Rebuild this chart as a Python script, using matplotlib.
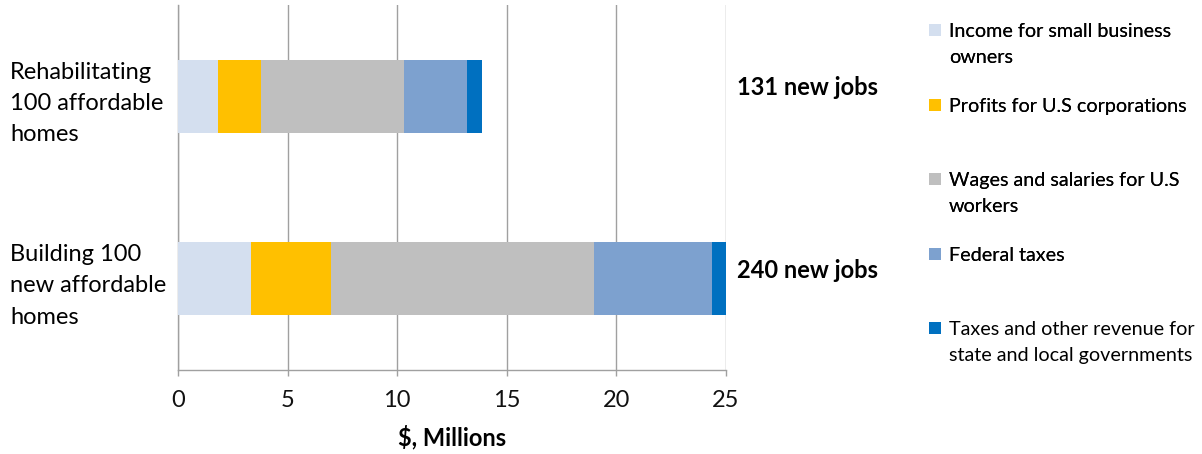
import numpy as np
import matplotlib
matplotlib.use('Agg')
import matplotlib.pyplot as plt
from matplotlib.patches import Patch

plt.rcParams['font.family'] = ['Lato', 'DejaVu Sans']

categories = ["Rehabilitating\n100 affordable\nhomes", "Building 100\nnew affordable\nhomes"]
income = [1.82, 3.32]
profits = [1.98, 3.67]
wages = [6.50, 11.97]
federal = [2.88, 5.38]
state_local = [0.69, 0.66]
new_jobs = [131, 240]

series_names = [["Income for small business", "owners"],
                ["Profits for U.S corporations"],
                ["Wages and salaries for U.S", "workers"],
                ["Federal taxes"],
                ["Taxes and other revenue for", "state and local governments"]]
colors = ['#D4DFEF', '#FFC000', '#BFBFBF', '#7DA1CF', '#0070C0']

fig = plt.figure(figsize=(12.02, 4.54), dpi=100)
ax = fig.add_axes([178/1202, 1 - 370/454, (726 - 178)/1202, 365/454])

y = np.arange(len(categories))
left = np.zeros(len(categories))
bars = []
for vals, col in zip([income, profits, wages, federal, state_local], colors):
    b = ax.barh(y, vals, height=0.4, left=left, color=col, zorder=3)
    bars.append(b)
    left = left + np.array(vals)

ax.set_xlim(0, 25)
ax.set_ylim(1.5, -0.5)
ax.set_xticks([0, 5, 10, 15, 20, 25])
ax.xaxis.grid(True, color='#A0A0A0', linewidth=1.0, zorder=0)
ax.set_yticks(y)
ax.set_yticklabels(categories, fontsize=17, ha='left', linespacing=1.6)
ax.tick_params(axis='y', length=0, pad=121)
ax.tick_params(axis='x', length=4.5, width=1.0, color='#A0A0A0', labelsize=17, pad=10,
               labelcolor='#111111')
for s in ['top', 'right']:
    ax.spines[s].set_visible(False)
for s in ['left', 'bottom']:
    ax.spines[s].set_color('#A0A0A0')
    ax.spines[s].set_linewidth(1.0)
ax.set_xlabel("$, Millions", fontsize=17, fontweight='bold', labelpad=10)

# job counts next to the bars
for yi, j in zip(y, new_jobs):
    ax.annotate("{0} new jobs".format(j), xy=(1, yi), xycoords=('axes fraction', 'data'),
                xytext=(8, 6), textcoords='offset points', va='center', ha='left',
                fontsize=17, fontweight='bold', annotation_clip=False)

# legend: one small legend per series so the spacing can follow the original
line1_y = [30, 105, 179, 254, 328]
blank = Patch(facecolor='none', edgecolor='none')
legends = []
for b, names, ly in zip(bars, series_names, line1_y):
    handles = [b] + [blank] * (len(names) - 1)
    leg = fig.legend(handles, names, loc='upper left',
                     bbox_to_anchor=(929/1202, 1 - (ly - 7)/454),
                     frameon=False, fontsize=14.2, handlelength=0.62, handleheight=0.62,
                     handletextpad=0.38, labelspacing=0.45, borderpad=0, borderaxespad=0)
    legends.append(leg)
for leg in legends[:-1]:
    fig.add_artist(leg)

plt.savefig('out.png', dpi=100)
